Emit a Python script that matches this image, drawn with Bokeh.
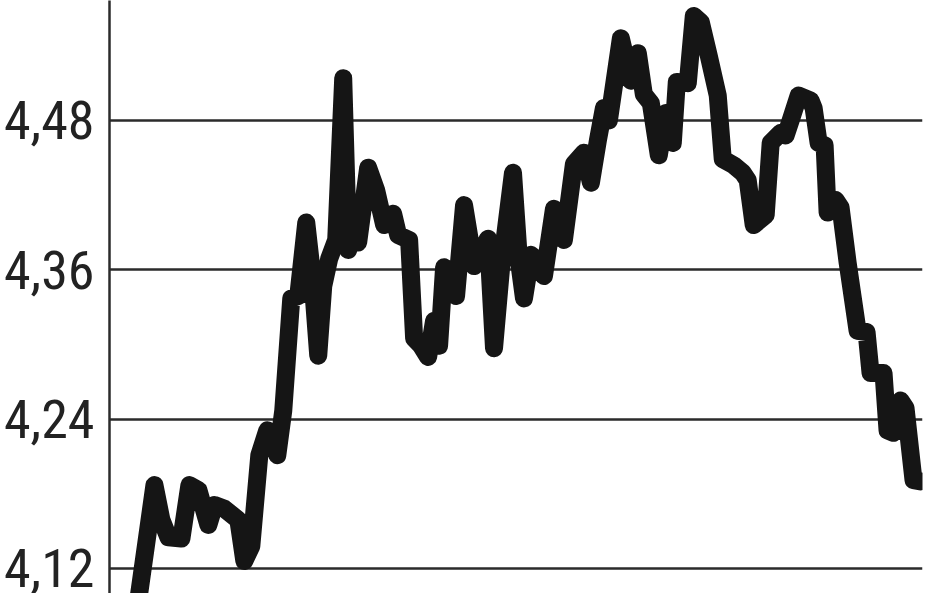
from bokeh.plotting import figure
from bokeh.models import FixedTicker, Range1d
from bokeh.embed import file_html
from bokeh.resources import INLINE

# trading-day position (along the time axis) and rate values
t = [28, 45, 52, 59, 72, 80, 89, 99, 105, 115, 129, 135, 142, 150, 158, 168, 174,
     182, 189, 197, 203, 209, 214, 220, 227, 234, 239, 244, 249, 259, 267, 275,
     284, 289, 300, 305, 312, 319, 325, 330, 335, 342, 347, 355, 365, 379, 385,
     392, 404, 410, 415, 422, 429, 435, 445, 455, 465, 475, 482, 489, 495, 500,
     512, 522, 529, 535, 542, 550, 557, 564, 568, 579, 585, 592, 600, 609, 614,
     625, 634, 639, 645, 657, 662, 672, 677, 682, 690, 702, 705, 710, 716, 719,
     727, 732, 739, 749, 758, 762, 775, 779, 785, 792, 797, 805, 812]
rate = [4.090, 4.187, 4.159, 4.145, 4.144, 4.187, 4.183, 4.155, 4.171, 4.168,
        4.159, 4.126, 4.138, 4.211, 4.231, 4.211, 4.247, 4.337, 4.339, 4.398,
        4.355, 4.291, 4.347, 4.369, 4.384, 4.514, 4.376, 4.388, 4.382, 4.442,
        4.424, 4.396, 4.405, 4.388, 4.384, 4.305, 4.299, 4.290, 4.319, 4.299,
        4.362, 4.359, 4.339, 4.412, 4.363, 4.385, 4.297, 4.361, 4.438, 4.367,
        4.337, 4.372, 4.367, 4.355, 4.409, 4.384, 4.445, 4.454, 4.430, 4.464,
        4.490, 4.480, 4.546, 4.512, 4.534, 4.501, 4.494, 4.452, 4.486, 4.462,
        4.511, 4.510, 4.564, 4.559, 4.532, 4.500, 4.449, 4.444, 4.438, 4.432,
        4.396, 4.404, 4.462, 4.470, 4.468, 4.480, 4.500, 4.496, 4.490, 4.462,
        4.460, 4.406, 4.416, 4.410, 4.366, 4.311, 4.310, 4.277, 4.277, 4.231,
        4.229, 4.255, 4.249, 4.191, 4.190]

y_ticks = [4.12, 4.24, 4.36, 4.48]
y_tick_labels = ["4,12", "4,24", "4,36", "4,48"]

p = figure(width=948, height=593, output_backend="svg", toolbar_location=None,
           x_axis_location=None,
           x_range=Range1d(0, 814), y_range=Range1d(4.0999, 4.5764),
           min_border_left=108, min_border_right=26,
           min_border_top=0, min_border_bottom=0)
p.outline_line_color = None
p.background_fill_color = "white"
p.border_fill_color = "white"

p.xgrid.visible = False
p.ygrid.ticker = FixedTicker(ticks=y_ticks)
p.ygrid.grid_line_color = "#2b2b2b"
p.ygrid.grid_line_width = 2.5

ax = p.yaxis[0]
ax.ticker = FixedTicker(ticks=y_ticks)
ax.major_label_overrides = {v: s for v, s in zip(y_ticks, y_tick_labels)}
ax.major_tick_line_color = None
ax.minor_tick_line_color = None
ax.major_tick_out = 0
ax.major_tick_in = 0
ax.axis_line_color = "#2b2b2b"
ax.axis_line_width = 2.5
ax.major_label_standoff = 15
ax.major_label_text_font = "'Roboto Condensed', 'Liberation Sans Narrow', 'DejaVu Sans Condensed', Roboto"
ax.major_label_text_font_size = "54px"
ax.major_label_text_color = "#222222"

p.line(t, rate, line_width=18, line_color="#151515",
       line_join="round", line_cap="round")

open("out.html", "w").write(file_html(p, INLINE))
